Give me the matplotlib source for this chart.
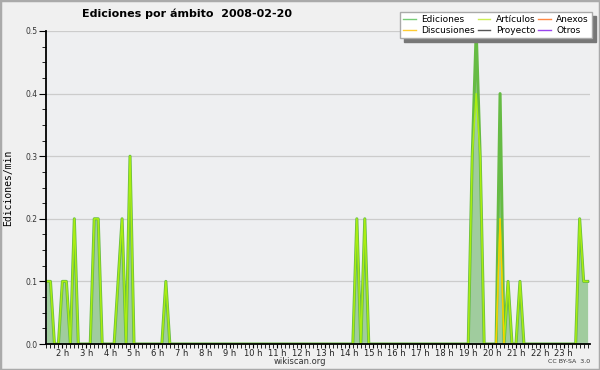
import numpy as np
import matplotlib
matplotlib.use("Agg")
import matplotlib.pyplot as plt
from matplotlib.lines import Line2D
from matplotlib.patches import Rectangle

# 10-minute bins starting at 01:20 (k = 0 .. 136), edits per minute
t0 = 1 + 20 / 60
n_bins = 137
ediciones_pts = {0: 0.1, 1: 0.1, 4: 0.1, 5: 0.1, 7: 0.2, 12: 0.2, 13: 0.2,
                 18: 0.1, 19: 0.2, 21: 0.3, 30: 0.1, 78: 0.2, 80: 0.2,
                 107: 0.3, 108: 0.5, 109: 0.3, 114: 0.4, 116: 0.1, 119: 0.1,
                 134: 0.2, 135: 0.1, 136: 0.1}
articulos_pts = dict(ediciones_pts)
articulos_pts.update({108: 0.4, 114: 0.2})
discusiones_pts = {114: 0.2}

hours = list(range(2, 24))
hour_labels = [f"{h} h" for h in hours]
legend_names = ["Ediciones", "Discusiones", "Artículos", "Proyecto", "Anexos", "Otros"]
legend_colors = ["#77cc77", "#ffcc33", "#ccee55", "#555555", "#ff8844", "#9944ee"]

t = t0 + np.arange(n_bins) / 6
def series(d):
    v = np.zeros(n_bins)
    for k, val in d.items():
        v[k] = val
    return v
ediciones = series(ediciones_pts)
articulos = series(articulos_pts)
discusiones = series(discusiones_pts)

fig = plt.figure(figsize=(6, 3.7), dpi=100, facecolor="#f0f0f0")
fig.patches.append(Rectangle((0, 0), 1, 1, transform=fig.transFigure, fill=False,
                             edgecolor="#aaaaaa", lw=2.5))
ax = fig.add_axes([46 / 600, 1 - 344 / 370, 544 / 600, 313 / 370])
ax.set_facecolor("#eeeff1")

ax.fill_between(t, 0, ediciones, color="#a0cc9e", lw=0, zorder=2)
ax.plot(t, ediciones, color="#66bb44", lw=2.2, zorder=3)
ax.plot(t, articulos, color="#aaee11", lw=1.1, zorder=4)
for i in np.nonzero(discusiones)[0]:
    ax.plot(t[i - 1:i + 2], discusiones[i - 1:i + 2], color="#ffcc00", lw=1.0, zorder=5)

ax.set_xlim(t0 - 0.02, 24.1)
ax.set_ylim(0, 0.5)
ax.set_xticks(hours)
ax.set_xticklabels(hour_labels)
ax.set_xticks(t, minor=True)
ax.set_yticks(np.arange(0, 0.51, 0.1))
ax.set_yticklabels([f"{v:.1f}" for v in np.arange(0, 0.51, 0.1)])
ax.set_yticks(np.arange(0, 0.5, 0.025), minor=True)
ax.yaxis.grid(True, color="#cccccc", lw=0.9, zorder=0)
ax.set_axisbelow(True)
for s in ["top", "right"]:
    ax.spines[s].set_visible(False)
for s in ["left", "bottom"]:
    ax.spines[s].set_linewidth(1.3)
    ax.spines[s].set_zorder(6)
ax.tick_params(axis="x", which="major", length=3, labelsize=6, pad=0.5, labelcolor="#222222")
ax.tick_params(axis="x", which="minor", length=3)
ax.tick_params(axis="y", which="major", length=5, labelsize=5.5, pad=1, labelcolor="#333333")
ax.tick_params(axis="y", which="minor", length=3)
ax.set_ylabel("Ediciones/min", family="DejaVu Sans Mono", fontsize=7, labelpad=9)

handles = [Line2D([], [], color=c, lw=1) for c in legend_colors]
leg = ax.legend(handles, legend_names, ncol=3, loc="upper right", bbox_to_anchor=(1.012, 1.075),
                fontsize=6.5, handlelength=1.4, handletextpad=0.6, columnspacing=0.3,
                labelspacing=0.2, borderpad=0.35, fancybox=False, framealpha=1,
                edgecolor="#aaaaaa", shadow={"color": "#777777", "alpha": 1, "ox": 3, "oy": -3})
leg.set_zorder(10)

fig.text(0.3125, 0.963, "Ediciones por ámbito  2008-02-20", ha="center", va="center",
         fontsize=8, fontweight="bold")
fig.text(0.5, 0.024, "wikiscan.org", ha="center", va="center", fontsize=6, color="#333333")
fig.text(0.983, 0.022, "CC BY-SA  3.0", ha="right", va="center", fontsize=4.5, color="#333333")

fig.savefig("out.png", dpi=100, facecolor=fig.get_facecolor())
